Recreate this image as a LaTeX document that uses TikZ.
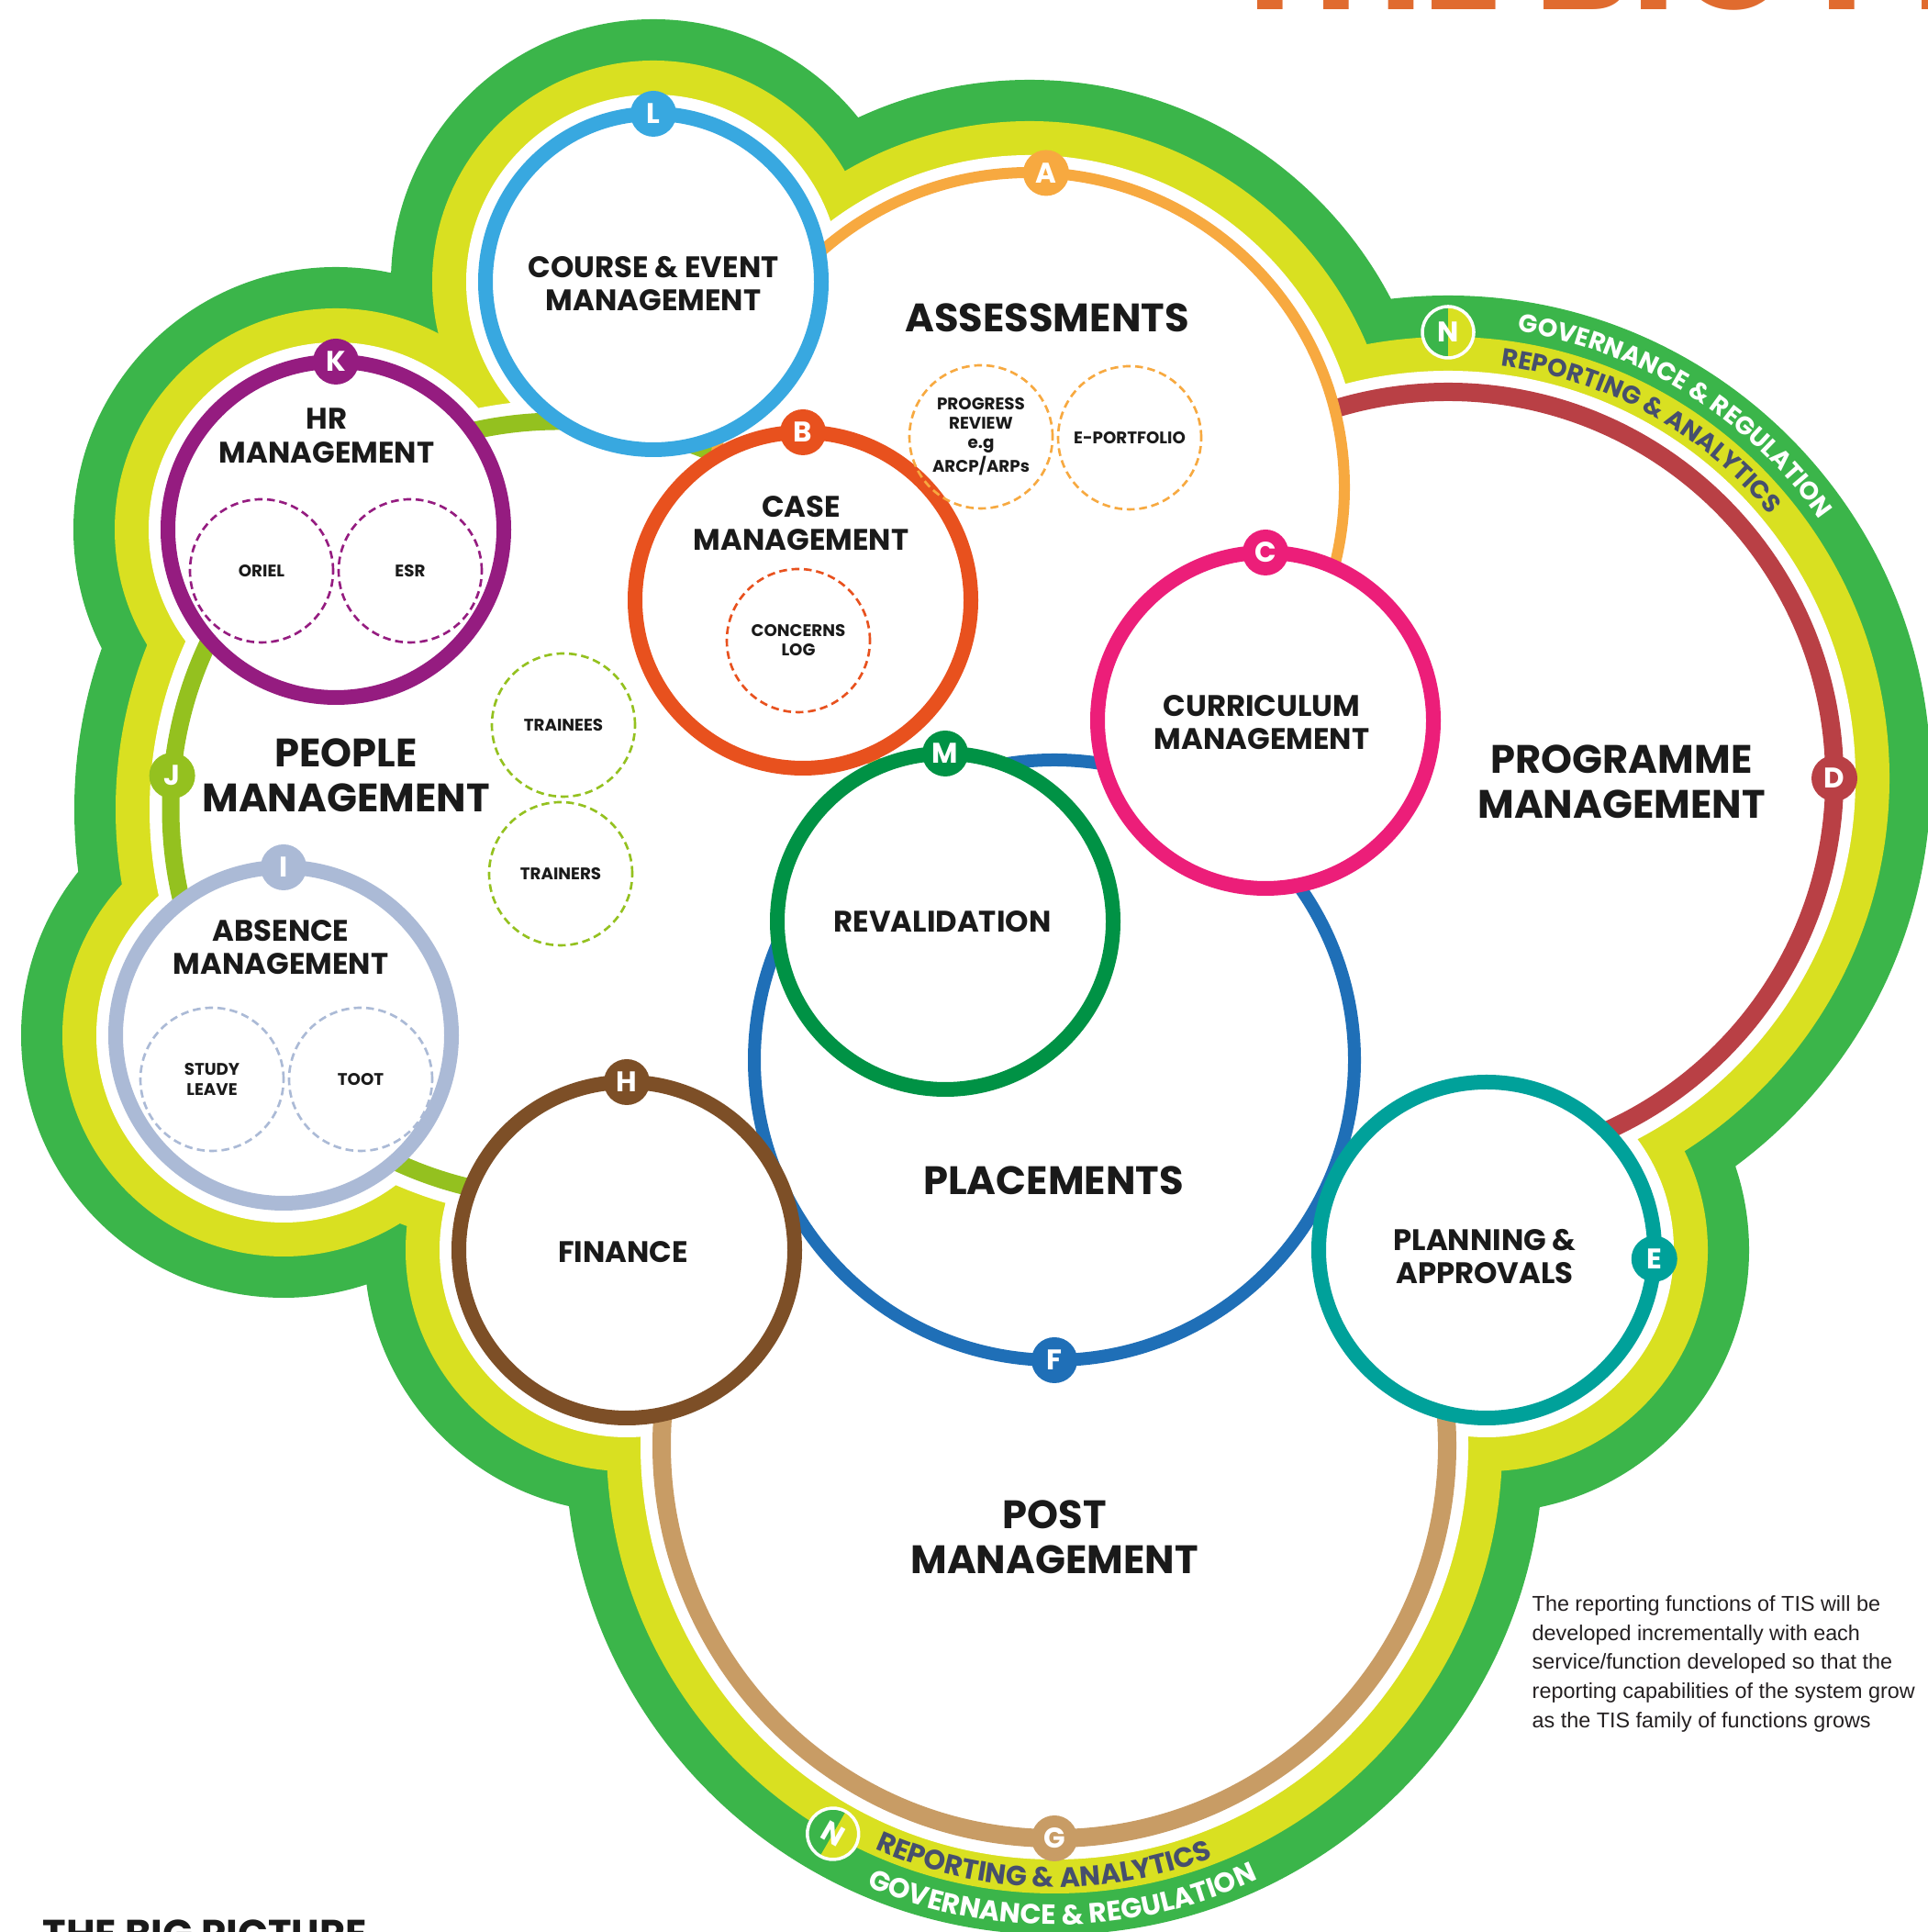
\documentclass[tikz,border=0pt]{standalone}
\usepackage{fontspec}
\setmainfont{Poppins}
\newfontfamily\notefont{Liberation Sans}
\usetikzlibrary{decorations.text}

% Colori
\definecolor{verdefascia}{HTML}{3BB54A}
\definecolor{giallofascia}{HTML}{D9E021}
\definecolor{ardesia}{HTML}{464F6D}
\definecolor{inchiostro}{HTML}{1A1A1A}
\definecolor{grigionota}{HTML}{231F20}
\definecolor{arancio}{HTML}{E06B2F}
\definecolor{colA}{HTML}{F7A940}
\definecolor{colB}{HTML}{E8511E}
\definecolor{colC}{HTML}{EC1E79}
\definecolor{colD}{HTML}{B94045}
\definecolor{colE}{HTML}{00A19A}
\definecolor{colF}{HTML}{1F6FB7}
\definecolor{colG}{HTML}{C89C65}
\definecolor{colH}{HTML}{7D4F27}
\definecolor{colI}{HTML}{ABBAD6}
\definecolor{colJ}{HTML}{94C11F}
\definecolor{colK}{HTML}{951C80}
\definecolor{colL}{HTML}{38A8E0}
\definecolor{colM}{HTML}{009245}

% Font
\newcommand\fontbadge{\fontsize{8.8pt}{9pt}\selectfont\bfseries}
\newcommand\fontmedio{\fontsize{9.2pt}{10.4pt}\selectfont\bfseries}
\newcommand\fontgrande{\fontsize{12.3pt}{13.9pt}\selectfont\bfseries}
\newcommand\fontpiccolo{\fontsize{5.2pt}{6pt}\selectfont\bfseries}
\newcommand\fontfasciaalta{\fontsize{7.8pt}{8pt}\selectfont\bfseries}
\newcommand\fontfasciabassa{\fontsize{8.6pt}{9pt}\selectfont\bfseries}

\tikzset{
  anello/.style={circle, draw, fill=white, inner sep=0pt, outer sep=0pt},
  piccolo/.style={anello, line width=0.16cm, minimum size=3.66cm},
  badge/.style={circle, inner sep=0pt, outer sep=0pt, minimum size=0.5cm,
    text=white, font=\fontbadge},
  cerchietto/.style={circle, draw, line width=0.75pt,
    dash pattern=on 0.085cm off 0.05cm, inner sep=0pt, minimum size=1.56cm,
    align=center, text=inchiostro, font=\fontpiccolo},
  titolo/.style={align=center, text=inchiostro, font=\fontmedio},
  titologrande/.style={align=center, text=inchiostro, font=\fontgrande},
}

\begin{document}
\begin{tikzpicture}

    \useasboundingbox (0,0) rectangle (21,21.05);

    % Centri dei cerchi
    \coordinate (cJ) at (6.09,12.23);
    \coordinate (cD) at (15.78,12.57);
    \coordinate (cA) at (11.22,15.74);
    \coordinate (cG) at (11.49,5.30);
    \coordinate (cF) at (11.49,9.50);
    \coordinate (cL) at (7.12,17.98);
    \coordinate (cK) at (3.66,15.28);
    \coordinate (cB) at (8.75,14.51);
    \coordinate (cC) at (13.79,13.20);
    \coordinate (cM) at (10.30,11.01);
    \coordinate (cI) at (3.09,9.77);
    \coordinate (cH) at (6.83,7.43);
    \coordinate (cE) at (16.20,7.43);

    % Fasce esterne: verde, giallo, bianco
    \foreach \colore/\d in {verdefascia/0.95, giallofascia/0.50, white/0.13}
      \foreach \c/\r in {cL/1.91, cK/1.91, cI/1.91, cH/1.91, cE/1.91,
                         cJ/4.33, cD/4.31, cA/3.49, cG/4.38}
        \fill[\colore] (\c) circle[radius=\r+\d];

    % Cerchi grandi
    \node[anello, draw=colJ, line width=0.19cm, minimum size=8.46cm] (J) at (cJ) {};
    \node[anello, draw=colD, line width=0.20cm, minimum size=8.42cm] (D) at (cD) {};
    \node[anello, draw=colG, line width=0.20cm, minimum size=8.56cm] (G) at (cG) {};
    \node[anello, draw=colA, line width=0.12cm, minimum size=6.86cm] (A) at (cA) {};
    \node[anello, draw=colF, line width=0.14cm, minimum size=6.54cm] (F) at (cF) {};

    % Cerchi piccoli
    \node[piccolo, draw=colL] (L) at (cL) {};
    \node[piccolo, draw=colK] (K) at (cK) {};
    \node[piccolo, draw=colB] (B) at (cB) {};
    \node[piccolo, draw=colC] (C) at (cC) {};
    \node[piccolo, draw=colM] (M) at (cM) {};
    \node[piccolo, draw=colI] (I) at (cI) {};
    \node[piccolo, draw=colH] (H) at (cH) {};
    \node[piccolo, draw=colE] (E) at (cE) {};

    % Sottocerchi tratteggiati
    \node[cerchietto, draw=colA] (progress) at (10.69,16.29) {PROGRESS\\REVIEW\\e.g\\ARCP/ARPs};
    \node[cerchietto, draw=colA] (portfolio) at (12.31,16.28) {E-PORTFOLIO};
    \node[cerchietto, draw=colK] (oriel) at (2.85,14.83) {ORIEL};
    \node[cerchietto, draw=colK] (esr) at (4.47,14.83) {ESR};
    \node[cerchietto, draw=colB] (concerns) at (8.70,14.07) {CONCERNS\\LOG};
    \node[cerchietto, draw=colJ] (trainees) at (6.14,13.15) {TRAINEES};
    \node[cerchietto, draw=colJ] (trainers) at (6.11,11.53) {TRAINERS};
    \node[cerchietto, draw=colI] (study) at (2.31,9.29) {STUDY\\LEAVE};
    \node[cerchietto, draw=colI] (toot) at (3.93,9.29) {TOOT};

    % Titoli dei cerchi
    \node[titolo] (tL) at (7.12,17.96) {COURSE \& EVENT\\MANAGEMENT};
    \node[titolo] (tK) at (3.56,16.30) {HR\\MANAGEMENT};
    \node[titolo] (tB) at (8.73,15.35) {CASE\\MANAGEMENT};
    \node[titolo] (tC) at (13.75,13.18) {CURRICULUM\\MANAGEMENT};
    \node[titolo] (tM) at (10.27,11.01) {REVALIDATION};
    \node[titolo] (tI) at (3.06,10.73) {ABSENCE\\MANAGEMENT};
    \node[titolo] (tH) at (6.79,7.41) {FINANCE};
    \node[titolo] (tE) at (16.18,7.36) {PLANNING \&\\APPROVALS};
    \node[titologrande] (tA) at (11.41,17.59) {ASSESSMENTS};
    \node[titologrande] (tD) at (17.67,12.53) {PROGRAMME\\MANAGEMENT};
    \node[titologrande] (tJ) at (3.77,12.60) {PEOPLE\\MANAGEMENT};
    \node[titologrande] (tF) at (11.48,8.19) {PLACEMENTS};
    \node[titologrande] (tG) at (11.49,4.30) {POST\\MANAGEMENT};

    % Lettere sugli anelli
    \node[badge, fill=colA] (bA) at (A.87) {A};
    \node[badge, fill=colB] (bB) at (B.90) {B};
    \node[badge, fill=colC] (bC) at (C.90) {C};
    \node[badge, fill=colD] (bD) at (D.0) {D};
    \node[badge, fill=colE] (bE) at (E.357) {E};
    \node[badge, fill=colF] (bF) at (F.270) {F};
    \node[badge, fill=colG] (bG) at (G.270) {G};
    \node[badge, fill=colH] (bH) at (H.90) {H};
    \node[badge, fill=colI] (bI) at (I.90) {I};
    \node[badge, fill=colJ] (bJ) at (J.175) {J};
    \node[badge, fill=colK] (bK) at (K.90) {K};
    \node[badge, fill=colL] (bL) at (L.90) {L};
    \node[badge, fill=colM] (bM) at (M.90) {M};

    % Scritte lungo le fasce
    \path[decorate, decoration={text along path, text align=center, text color=white,
        text={|\fontfasciaalta|GOVERNANCE {\&} REGULATION}}]
        ([shift={(100:4.93)}]cD) arc[start angle=100, end angle=16, radius=4.93];
    \path[decorate, decoration={text along path, text align=center, text color=ardesia,
        text={|\fontfasciaalta|REPORTING {\&} ANALYTICS}}]
        ([shift={(103:4.53)}]cD) arc[start angle=103, end angle=19, radius=4.53];
    \path[decorate, decoration={text along path, text align=center, text color=ardesia,
        text={|\fontfasciabassa|REPORTING {\&} ANALYTICS}}]
        ([shift={(224:4.81)}]cG) arc[start angle=224, end angle=313, radius=4.81];
    \path[decorate, decoration={text along path, text align=center, text color=white,
        text={|\fontfasciabassa|GOVERNANCE {\&} REGULATION}}]
        ([shift={(226:5.22)}]cG) arc[start angle=226, end angle=316, radius=5.22];

    % Badge N
    \coordinate (nAlto) at ([shift={(90:4.86)}]cD);
    \coordinate (nBasso) at ([shift={(240.3:4.87)}]cG);
    \begin{scope}[shift={(nAlto)}]
        \fill[verdefascia] (90:0.28) arc[start angle=90, end angle=270, radius=0.28] -- cycle;
        \fill[giallofascia] (-90:0.28) arc[start angle=-90, end angle=90, radius=0.28] -- cycle;
        \draw[white, line width=1pt] (0,0) circle[radius=0.28];
        \node[text=white, font=\fontbadge] (nA) at (0,0) {N};
    \end{scope}
    \begin{scope}[shift={(nBasso)}, rotate=-30]
        \fill[verdefascia] (90:0.28) arc[start angle=90, end angle=270, radius=0.28] -- cycle;
        \fill[giallofascia] (-90:0.28) arc[start angle=-90, end angle=90, radius=0.28] -- cycle;
        \draw[white, line width=1pt] (0,0) circle[radius=0.28];
        \node[text=white, font=\fontbadge, rotate=-30] (nB) at (0,0) {N};
    \end{scope}

    % Titoli ai bordi e nota
    \node[anchor=base west, inner sep=0pt, text=arancio,
        font=\fontsize{46pt}{48pt}\selectfont\bfseries]
        (titolo) at (13.36,20.94) {THE BIG PICTURE};
    \node[anchor=base west, inner sep=0pt, text=inchiostro,
        font=\fontsize{12.3pt}{13pt}\selectfont\bfseries]
        (piede) at (0.46,-0.18) {THE BIG PICTURE};
    \node[anchor=north west, align=left, inner sep=0pt, text=grigionota,
        font=\notefont\fontsize{6.65pt}{9pt}\selectfont] (nota) at (16.69,3.67)
        {The reporting functions of TIS will be\\developed incrementally with each\\
         service/function developed so that the\\reporting capabilities of the system grow\\
         as the TIS family of functions grows};

\end{tikzpicture}
\end{document}
